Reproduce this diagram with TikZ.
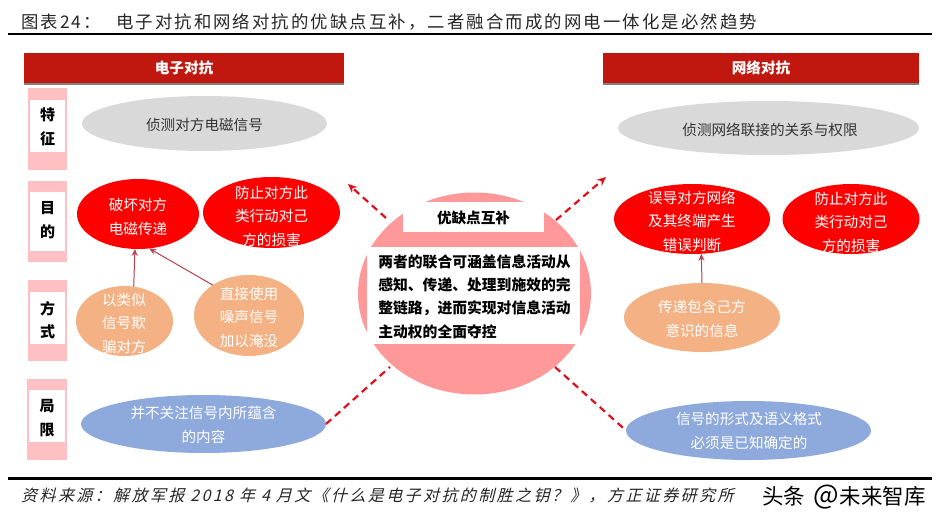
\documentclass[tikz,border=0pt]{standalone}
\usepackage{fontspec}
\setmainfont{Noto Sans CJK SC}
\newfontfamily\cjkslant[FakeSlant=0.25,LetterSpace=15]{Noto Sans CJK SC}
\newfontfamily\cjkspaced[LetterSpace=12]{Noto Sans CJK SC}
\usetikzlibrary{shapes.geometric,arrows.meta,shadows}
\definecolor{hdrred}{HTML}{C0180F}
\definecolor{colpink}{HTML}{FFC0C4}
\definecolor{circpink}{HTML}{FF9999}
\definecolor{ellgrey}{HTML}{D9D9D9}
\definecolor{ellred}{HTML}{FF0000}
\definecolor{ellorange}{HTML}{F4B183}
\definecolor{ellblue}{HTML}{8EA9DB}
\definecolor{thinarrow}{HTML}{B8404F}
\definecolor{dashred}{HTML}{E2101C}
\tikzset{
  x=1pt,y=-1pt,
  ell/.style={ellipse,draw=none,inner sep=0pt,outer sep=0pt},
  box/.style={rectangle,draw=none,inner sep=0pt,outer sep=0pt},
  hdr/.style={box,fill=hdrred,text=white,font=\fontsize{14.6}{18}\selectfont\bfseries,
    drop shadow={shadow xshift=0pt,shadow yshift=-1.8pt,opacity=.5,fill=black}},
  ltxt/.style={inner sep=0pt,align=center,text=white,font=\fontsize{14.6}{23.5}\selectfont},
  dtxt/.style={inner sep=0pt,align=center,text=black!80,font=\fontsize{14.6}{18}\selectfont},
  side/.style={inner sep=0pt,align=center,text=black,font=\fontsize{15}{23.5}\selectfont\bfseries},
  dashline/.style={draw=dashred,line width=2.2pt,dash pattern=on 7pt off 5pt},
  dasharrow/.style={dashline,-{Stealth[length=9pt,width=8pt]}},
  thinline/.style={draw=thinarrow,line width=1pt,-{Stealth[length=7pt,width=6pt]}},
  rulel/.style={draw=black,line cap=butt}
}
\begin{document}
\begin{tikzpicture}
\useasboundingbox (0,0) rectangle (940,524);
\fill[white] (0,0) rectangle (940,524);
% title
\node[anchor=west,inner sep=0pt,text=black!85,font=\fontsize{17.4}{20}\selectfont\cjkspaced] (title) at (21,22.5)
  {图表24：\hspace{15pt}电子对抗和网络对抗的优缺点互补，二者融合而成的网电一体化是必然趋势};
\coordinate (rt1) at (8,34); \coordinate (rt2) at (932,34);
\draw[rulel,line width=1.4pt] (rt1) -- (rt2);
% headers
\node[hdr,minimum width=320pt,minimum height=30pt] (hl) at (184,68) {电子对抗};
\node[hdr,minimum width=316pt,minimum height=30pt] (hr) at (761,68) {网络对抗};
% side columns
\node[box,fill=colpink,minimum width=39pt,minimum height=82pt] (c1) at (47.5,129) {};
\node[box,fill=white,minimum width=35pt,minimum height=52pt] (w1) at (47.5,126) {};
\node[side] (s1) at (47.5,127) {特\\征};
\node[box,fill=colpink,minimum width=39pt,minimum height=81pt] (c2) at (47.5,221.5) {};
\node[box,fill=white,minimum width=35pt,minimum height=59pt] (w2) at (47.5,221) {};
\node[side] (s2) at (47.5,220) {目\\的};
\node[box,fill=colpink,minimum width=39pt,minimum height=81pt] (c3) at (47.5,320.5) {};
\node[box,fill=white,minimum width=35pt,minimum height=52pt] (w3) at (47.5,318) {};
\node[side] (s3) at (47.5,320) {方\\式};
\node[box,fill=colpink,minimum width=40pt,minimum height=81pt] (c4) at (47,419.5) {};
\node[box,fill=white,minimum width=36pt,minimum height=52pt] (w4) at (47,416) {};
\node[side] (s4) at (47,418) {局\\限};
% ellipses left
\node[ell,fill=ellgrey,minimum width=245pt,minimum height=55pt] (g1) at (204.5,123.5) {};
\node[dtxt] (g1t) at (204.5,125) {侦测对方电磁信号};
\node[ell,fill=ellred,minimum width=122pt,minimum height=70pt] (r1) at (138,214) {};
\node[ltxt] (r1t) at (138,217) {破坏对方\\电磁传递};
\node[ell,fill=ellred,minimum width=137pt,minimum height=71pt] (r2) at (271.5,212.5) {};
\node[ltxt] (r2t) at (271.5,216) {防止对方此\\类行动对己\\方的损害};
\node[ell,fill=ellorange,minimum width=97pt,minimum height=70pt] (o1) at (124.5,321) {};
\node[ltxt] (o1t) at (124,323) {以类似\\信号欺\\骗对方};
\node[ell,fill=ellorange,minimum width=110pt,minimum height=81pt] (o2) at (249,315.5) {};
\node[ltxt] (o2t) at (249,317) {直接使用\\噪声信号\\加以淹没};
\node[ell,fill=ellblue,minimum width=245pt,minimum height=58pt] (b1) at (203.5,424) {};
\node[ltxt] (b1t) at (203.5,425) {并不关注信号内所蕴含\\的内容};
% ellipses right
\node[ell,fill=ellgrey,minimum width=301pt,minimum height=54pt] (g2) at (768.5,128) {};
\node[dtxt] (g2t) at (770,130) {侦测网络联接的关系与权限};
\node[ell,fill=ellred,minimum width=156pt,minimum height=70pt] (r3) at (692,219) {};
\node[ltxt] (r3t) at (692,221) {误导对方网络\\及其终端产生\\错误判断};
\node[ell,fill=ellred,minimum width=137pt,minimum height=70pt] (r4) at (851,219) {};
\node[ltxt] (r4t) at (851,222) {防止对方此\\类行动对己\\方的损害};
\node[ell,fill=ellorange,minimum width=156pt,minimum height=69pt] (o3) at (702,317.5) {};
\node[ltxt] (o3t) at (702,319) {传递包含己方\\意识的信息};
\node[ell,fill=ellblue,minimum width=245pt,minimum height=59pt] (b2) at (748.5,430.5) {};
\node[ltxt] (b2t) at (749,431) {信号的形式及语义格式\\必须是已知确定的};
% centre circle
\node[ell,fill=circpink,minimum width=233pt,minimum height=202pt] (circ) at (474.5,293.5) {};
\node[box,fill=white,minimum width=141pt,minimum height=30pt] (tag) at (473.5,217) {};
\node[inner sep=0pt,text=black,font=\fontsize{14.6}{18}\selectfont\bfseries] (tagt) at (473.5,218) {优缺点互补};
\node[box,fill=white,minimum width=213pt,minimum height=97pt] (body) at (473.5,295.5) {};
\node[inner sep=0pt,align=left,text=black,font=\fontsize{14.8}{23.3}\selectfont\bfseries] (bodyt) at (474.5,296.5)
  {两者的联合可涵盖信息活动从\\感知、传递、处理到施效的完\\整链路，进而实现对信息活动\\主动权的全面夺控};
% connectors
\draw[thinline] (o1.75) -- (r1.265);
\draw[thinline] (o2.140) -- (r1.288);
\draw[thinline] (o3.north) -- (r3.285);
\coordinate (ca) at (386,218); \coordinate (ea) at (348,184);
\coordinate (cb) at (556,220); \coordinate (eb) at (606,177);
\coordinate (cc) at (390,367); \coordinate (cd) at (555,367);
\draw[dasharrow] (ca) -- (ea);
\draw[dasharrow] (cb) -- (eb);
\draw[dashline] (b1.east) -- (cc);
\draw[dashline] (cd) -- (b2.west);
% footer
\coordinate (rb1) at (8,478.5); \coordinate (rb2) at (932,478.5);
\draw[rulel,line width=3pt] (rb1) -- (rb2);
\node[anchor=west,inner sep=0pt,text=black!85,font=\fontsize{16}{18}\selectfont\cjkslant] (src) at (21,495.5)
  {资料来源：解放军报 2018 年 4 月文《什么是电子对抗的制胜之钥？》，方正证券研究所};
\node[anchor=east,inner sep=0pt,text=black,font=\fontsize{21.5}{24}\selectfont] (wm) at (926,497) {头条\hspace{8pt}{\fontsize{27}{24}\selectfont @}\hspace{1pt}未来智库};
\end{tikzpicture}
\end{document}
